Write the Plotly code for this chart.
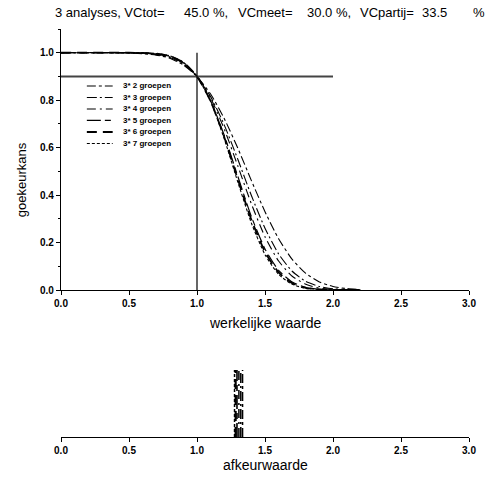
import plotly.graph_objects as go

# True value grid shared by all operating characteristic curves
werkelijke_waarde = [0.0, 0.5, 0.6, 0.7, 0.8, 0.9, 1.0, 1.1, 1.2, 1.3, 1.4,
                     1.5, 1.6, 1.7, 1.8, 1.9, 2.0, 2.1, 2.2]

# Acceptance probability for 3 analyses split into n groups
kans_2 = [1.0, 0.999, 0.996, 0.990, 0.977, 0.948, 0.90, 0.826, 0.723, 0.598, 0.461,
          0.330, 0.216, 0.129, 0.070, 0.034, 0.015, 0.006, 0.002]
kans_3 = [1.0, 1.0, 0.998, 0.992, 0.980, 0.952, 0.90, 0.815, 0.696, 0.551, 0.398,
          0.260, 0.152, 0.079, 0.036, 0.015, 0.005, 0.002, 0.0]
kans_4 = [1.0, 1.0, 0.998, 0.994, 0.983, 0.955, 0.90, 0.809, 0.679, 0.523, 0.363,
          0.224, 0.122, 0.058, 0.024, 0.008, 0.003, 0.001, 0.0]
kans_5 = [1.0, 1.0, 0.999, 0.995, 0.985, 0.958, 0.90, 0.798, 0.652, 0.479, 0.309,
          0.173, 0.083, 0.034, 0.011, 0.003, 0.001, 0.0, 0.0]
kans_6 = [1.0, 1.0, 0.999, 0.996, 0.986, 0.959, 0.90, 0.796, 0.645, 0.467, 0.296,
          0.161, 0.074, 0.029, 0.009, 0.002, 0.0, 0.0, 0.0]
kans_7 = [1.0, 1.0, 1.0, 0.997, 0.987, 0.960, 0.90, 0.794, 0.638, 0.455, 0.282,
          0.149, 0.066, 0.024, 0.007, 0.002, 0.0, 0.0, 0.0]

groep_labels = ["3* 2 groepen", "3* 3 groepen", "3* 4 groepen",
                "3* 5 groepen", "3* 6 groepen", "3* 7 groepen"]

# Rejection limit (afkeurwaarde) per grouping scheme
afkeurwaarde = [1.335, 1.322, 1.308, 1.294, 1.284, 1.276]

# Reference level and reference true value
ref_kans = 0.9
ref_kans_x = [0.0, 2.0]
ref_waarde = 1.0
ref_waarde_y = [0.0, 1.0]

# Title pieces with their anchor in paper coordinates
titel_delen = ["3 analyses, VCtot=", "45.0 %,", "VCmeet=", "30.0 %,", "VCpartij=", "33.5", "%"]
titel_x = [0.258, 0.297, 0.428, 0.598, 0.728, 0.881, 1.004]
titel_anchor = ["right", "left", "left", "left", "left", "left", "left"]

dashes = ["9px,3px,3px,3px", "10px,3px,2px,3px", "9px,4px,2px,4px",
          "14px,4px,6px,4px", "10px,6px", "3px,2px"]
widths = [1.1, 1.1, 1.1, 1.2, 1.8, 1.1]

FONT = "Liberation Sans, Arial, sans-serif"

fig = go.Figure()

curves = [kans_2, kans_3, kans_4, kans_5, kans_6, kans_7]
for label, kans, dash, w in zip(groep_labels, curves, dashes, widths):
    fig.add_trace(go.Scatter(
        x=werkelijke_waarde, y=kans, mode="lines", name=label,
        line=dict(color="black", width=w, dash=dash, shape="spline", smoothing=0.6),
        showlegend=False, xaxis="x", yaxis="y"))

# Horizontal line at the reference acceptance probability
fig.add_trace(go.Scatter(
    x=ref_kans_x, y=[ref_kans, ref_kans], mode="lines",
    line=dict(color="#444444", width=2), showlegend=False, xaxis="x", yaxis="y"))
# Vertical line at the reference true value
fig.add_trace(go.Scatter(
    x=[ref_waarde, ref_waarde], y=ref_waarde_y, mode="lines",
    line=dict(color="black", width=1.2), showlegend=False, xaxis="x", yaxis="y"))

# Rejection limits in the lower panel
for a, dash, w in zip(afkeurwaarde, dashes, widths):
    fig.add_trace(go.Scatter(
        x=[a, a], y=[0, 1], mode="lines",
        line=dict(color="black", width=w + 0.4, dash=dash),
        showlegend=False, xaxis="x2", yaxis="y2"))

# Hand-drawn legend inside the upper panel
legend_y0 = 0.860
legend_dy = 0.0485
shapes = []
annotations = []
for i, (label, dash, w) in enumerate(zip(groep_labels, dashes, widths)):
    yy = legend_y0 - i * legend_dy
    shapes.append(dict(type="line", xref="x", yref="y", x0=0.19, x1=0.38, y0=yy, y1=yy,
                       line=dict(color="black", width=w, dash=dash)))
    annotations.append(dict(xref="x", yref="y", x=0.44, y=yy, text=label, showarrow=False,
                            xanchor="left", yanchor="middle",
                            font=dict(family=FONT, size=8, color="black", weight="bold")))

for deel, tx, anc in zip(titel_delen, titel_x, titel_anchor):
    annotations.append(dict(xref="paper", yref="paper", x=tx, y=1.04, text=deel,
                            showarrow=False, xanchor=anc, yanchor="middle",
                            font=dict(family=FONT, size=13, color="black")))
annotations.append(dict(xref="paper", yref="paper", x=0.5, y=0.28, text="werkelijke waarde",
                        showarrow=False, xanchor="center", yanchor="middle",
                        font=dict(family=FONT, size=14, color="black")))
annotations.append(dict(xref="paper", yref="paper", x=0.5, y=-0.068, text="afkeurwaarde",
                        showarrow=False, xanchor="center", yanchor="middle",
                        font=dict(family=FONT, size=14, color="black")))
annotations.append(dict(xref="paper", yref="paper", x=-0.095, y=0.63, text="goekeurkans",
                        showarrow=False, xanchor="center", yanchor="middle", textangle=-90,
                        font=dict(family=FONT, size=13, color="black")))

tickfont = dict(family=FONT, size=10, color="black", weight="bold")
axis_common = dict(showgrid=False, zeroline=False, showline=True, linecolor="black",
                   linewidth=1.2, ticks="outside", ticklen=4, tickcolor="black",
                   tickfont=tickfont)

fig.update_layout(
    width=488, height=485,
    margin=dict(l=61, r=16, t=29, b=48),
    paper_bgcolor="white", plot_bgcolor="white",
    shapes=shapes, annotations=annotations,
    xaxis=dict(domain=[0, 1], range=[0, 3], tickvals=[0, 0.5, 1, 1.5, 2, 2.5, 3],
               ticktext=["0.0", "0.5", "1.0", "1.5", "2.0", "2.5", "3.0"],
               anchor="y", **axis_common),
    yaxis=dict(domain=[0.3603, 1.0], range=[0, 1.1], tickvals=[0, 0.2, 0.4, 0.6, 0.8, 1.0],
               ticktext=["0.0", "0.2", "0.4", "0.6", "0.8", "1.0"],
               minor=dict(dtick=0.1, ticks="outside", ticklen=2, tickcolor="black"),
               anchor="x", **axis_common),
    xaxis2=dict(domain=[0, 1], range=[0, 3], tickvals=[0, 0.5, 1, 1.5, 2, 2.5, 3],
                ticktext=["0.0", "0.5", "1.0", "1.5", "2.0", "2.5", "3.0"],
                anchor="y2", **axis_common),
    yaxis2=dict(domain=[0, 0.164], range=[0, 1.0], visible=False, anchor="x2"),
)

fig.write_html("out.html")
